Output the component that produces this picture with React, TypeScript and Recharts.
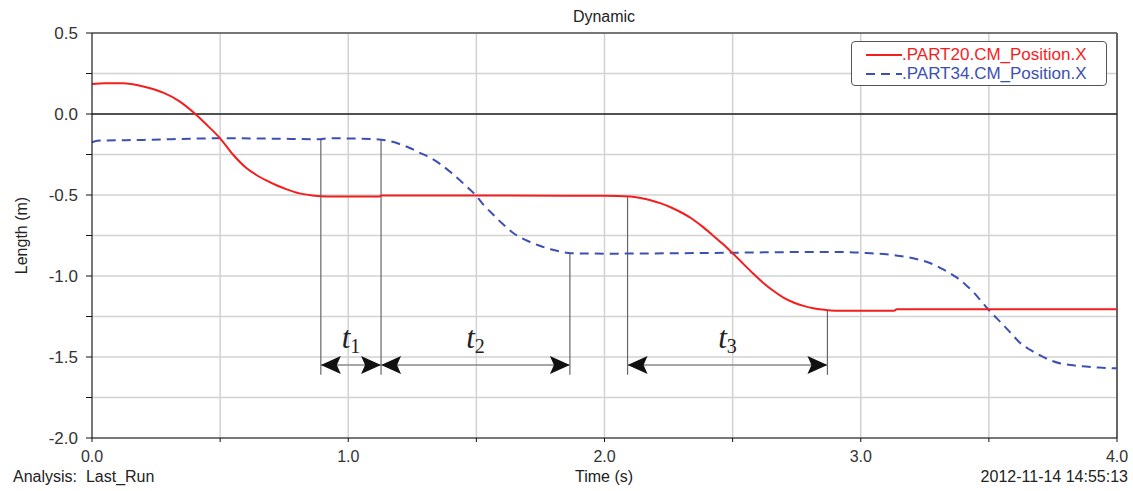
import { LineChart, Line, XAxis, YAxis, CartesianGrid, ReferenceLine, ReferenceDot } from 'recharts'

// PART20 centre-of-mass X position (m) over time (s)
const part20Time = [0, 0.05, 0.12, 0.2, 0.28, 0.34, 0.4, 0.45, 0.5, 0.55, 0.6, 0.64, 0.68, 0.72, 0.76, 0.81, 0.86, 0.92, 1.12, 1.13, 1.5, 2.0, 2.1, 2.14, 2.18, 2.22, 2.26, 2.3, 2.34, 2.38, 2.42, 2.46, 2.5, 2.54, 2.58, 2.62, 2.66, 2.7, 2.74, 2.78, 2.82, 2.86, 2.9, 3.0, 3.13, 3.14, 4.0]
const part20Len = [0.185, 0.19, 0.19, 0.17, 0.13, 0.08, 0.005, -0.07, -0.15, -0.25, -0.33, -0.375, -0.41, -0.44, -0.465, -0.49, -0.503, -0.51, -0.51, -0.503, -0.503, -0.505, -0.51, -0.518, -0.532, -0.552, -0.577, -0.608, -0.645, -0.692, -0.745, -0.8, -0.86, -0.922, -0.985, -1.043, -1.093, -1.135, -1.165, -1.186, -1.2, -1.209, -1.214, -1.215, -1.215, -1.205, -1.205]

// PART34 centre-of-mass X position (m) over time (s)
const part34Time = [0, 0.02, 0.2, 0.5, 0.7, 0.89, 0.92, 1.09, 1.16, 1.2, 1.24, 1.28, 1.32, 1.36, 1.4, 1.45, 1.5, 1.53, 1.565, 1.6, 1.64, 1.675, 1.71, 1.75, 1.79, 1.83, 1.87, 2.0, 2.4, 2.8, 2.92, 3.04, 3.1, 3.15, 3.19, 3.23, 3.27, 3.31, 3.34, 3.375, 3.41, 3.44, 3.47, 3.5, 3.53, 3.555, 3.59, 3.62, 3.66, 3.7, 3.74, 3.78, 3.82, 3.86, 3.93, 4.0]
const part34Len = [-0.175, -0.165, -0.16, -0.15, -0.152, -0.156, -0.15, -0.154, -0.167, -0.185, -0.21, -0.24, -0.27, -0.31, -0.36, -0.43, -0.506, -0.565, -0.62, -0.675, -0.73, -0.765, -0.79, -0.815, -0.835, -0.85, -0.86, -0.862, -0.858, -0.852, -0.852, -0.86, -0.866, -0.876, -0.886, -0.9, -0.92, -0.95, -0.975, -1.01, -1.055, -1.1, -1.155, -1.21, -1.26, -1.3, -1.36, -1.41, -1.455, -1.49, -1.52, -1.54, -1.55, -1.557, -1.565, -1.57]

// interval markers: time, and the curve value where the drop line starts
const markTime = [0.893, 1.128, 1.865, 2.09, 2.87]
const markTop = [-0.155, -0.16, -0.86, -0.51, -1.215]
const markBottom = -1.61

// measured intervals (start, end) between markers
const spanNames = ['1', '2', '3']
const spanStart = [0.893, 1.128, 2.09]
const spanEnd = [1.128, 1.865, 2.87]
const arrowLevel = -1.549
const spanLabelLevel = -1.444

const xTicks = [0, 0.5, 1, 1.5, 2, 2.5, 3, 3.5, 4]
const yTicks = [-2, -1.75, -1.5, -1.25, -1, -0.75, -0.5, -0.25, 0, 0.25, 0.5]

const RED = '#f41e1e'
const BLUE = '#3b50b2'
const SANS = '"Liberation Sans", Arial, sans-serif'

const part20Data = part20Time.map((t, i) => ({ t, v: part20Len[i] }))
const part34Data = part34Time.map((t, i) => ({ t, v: part34Len[i] }))

const arrowHead = (dir: number) => (p: any) => {
  const { cx, cy } = p
  const L = 20 * dir
  return (
    <polygon
      points={`${cx},${cy} ${cx + L},${cy - 9} ${cx + L * 0.8},${cy} ${cx + L},${cy + 9}`}
      fill="#111"
    />
  )
}

const spanLabel = (n: string) => (p: any) => (
  <text x={p.cx} y={p.cy} textAnchor="middle" fill="#222" fontFamily='"Liberation Serif", serif'>
    <tspan fontSize={31} fontStyle="italic">t</tspan>
    <tspan fontSize={20} dy={5}>{n}</tspan>
  </text>
)

const LegendBox = () => (
  <div style={{
    position: 'absolute', left: 851, top: 41,
    border: '1.5px solid #555', borderRadius: 4, background: '#fff', padding: '3px 8px 2px 14px',
    fontSize: 17, lineHeight: '19px', width: 232,
  }}>
    <div style={{ display: 'flex', alignItems: 'center', color: RED }}>
      <svg width={36} height={10}><line x1={0} y1={5} x2={36} y2={5} stroke={RED} strokeWidth={2} /></svg>
      <span>.PART20.CM_Position.X</span>
    </div>
    <div style={{ display: 'flex', alignItems: 'center', color: BLUE }}>
      <svg width={36} height={10}><line x1={0} y1={5} x2={36} y2={5} stroke={BLUE} strokeWidth={2} strokeDasharray="9 6" /></svg>
      <span>.PART34.CM_Position.X</span>
    </div>
  </div>
)

export default function App() {
  return (
    <div style={{ position: 'relative', width: 1133, height: 491, background: '#fff', fontFamily: SANS }}>
      <style>{'body{margin:0}'}</style>
      <div style={{ position: 'absolute', top: 8, width: 1208, textAlign: 'center', fontSize: 16, color: '#222' }}>Dynamic</div>
      <LineChart width={1133} height={491} margin={{ top: 33, right: 16, bottom: 0, left: 0 }}>
        <CartesianGrid stroke="#d2d2d2" strokeWidth={1.5} />
        <XAxis
          type="number" dataKey="t" domain={[0, 4]} ticks={xTicks} height={53}
          tickFormatter={(v: number) => (Number.isInteger(v) ? v.toFixed(1) : '')}
          tick={{ fontSize: 16, fill: '#333', fontFamily: SANS }}
          tickSize={4} tickMargin={9} stroke="#111" allowDataOverflow
        />
        <YAxis
          type="number" domain={[-2, 0.5]} ticks={yTicks} width={92}
          tickFormatter={(v: number) => (Math.abs(v * 2 - Math.round(v * 2)) < 1e-6 ? v.toFixed(1) : '')}
          tick={{ fontSize: 17, fill: '#333', fontFamily: SANS }}
          tickSize={6} tickMargin={8} stroke="#111" allowDataOverflow
          label={{ value: 'Length (m)', angle: -90, position: 'insideLeft', offset: 21, style: { fontSize: 16, fill: '#222', fontFamily: SANS, textAnchor: 'middle' } }}
        />
        <ReferenceLine y={0.5} stroke="#555" strokeWidth={1.5} />
        <ReferenceLine x={4} stroke="#666" strokeWidth={2} />
        <ReferenceLine y={0} stroke="#222" strokeWidth={1.5} />
        {markTime.map((t, i) => (
          <ReferenceLine key={`m${i}`} segment={[{ x: t, y: markTop[i] }, { x: t, y: markBottom }]} stroke="#666" strokeWidth={1.2} />
        ))}
        {spanStart.map((s, i) => (
          <ReferenceLine key={`s${i}`} segment={[{ x: s, y: arrowLevel }, { x: spanEnd[i], y: arrowLevel }]} stroke="#888" strokeWidth={1.5} />
        ))}
        <Line data={part34Data} dataKey="v" type="monotone" stroke={BLUE} strokeWidth={2} strokeDasharray="9 6" dot={false} isAnimationActive={false} />
        <Line data={part20Data} dataKey="v" type="monotone" stroke={RED} strokeWidth={2} dot={false} isAnimationActive={false} />
        {spanStart.map((s, i) => (
          <ReferenceDot key={`a${i}`} x={s} y={arrowLevel} r={0} shape={arrowHead(1)} />
        ))}
        {spanEnd.map((e, i) => (
          <ReferenceDot key={`b${i}`} x={e} y={arrowLevel} r={0} shape={arrowHead(-1)} />
        ))}
        {spanNames.map((n, i) => (
          <ReferenceDot key={`l${i}`} x={(spanStart[i] + spanEnd[i]) / 2} y={spanLabelLevel} r={0} shape={spanLabel(n)} />
        ))}
      </LineChart>
      <LegendBox />
      <div style={{ position: 'absolute', left: 13, top: 468, fontSize: 16, color: '#222', whiteSpace: 'pre' }}>Analysis:  Last_Run</div>
      <div style={{ position: 'absolute', left: 0, width: 1208, top: 468, fontSize: 16, color: '#222', textAlign: 'center' }}>Time (s)</div>
      <div style={{ position: 'absolute', right: 5, top: 468, fontSize: 16, color: '#222' }}>2012-11-14 14:55:13</div>
    </div>
  )
}
